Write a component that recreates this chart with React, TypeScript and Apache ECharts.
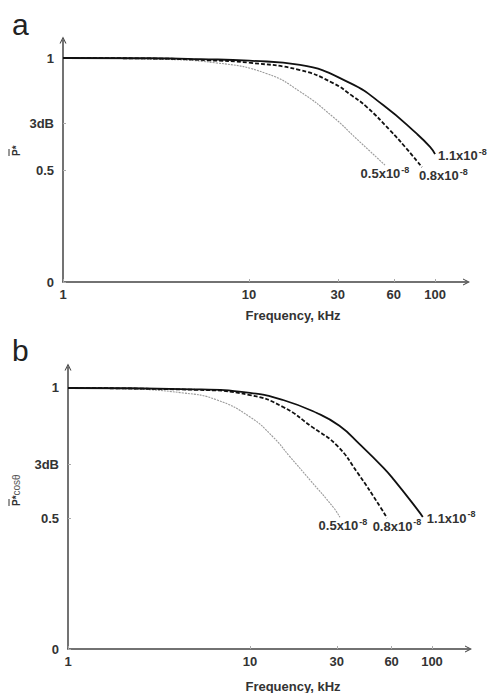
import React, { useEffect, useRef } from "react";
import * as echarts from "echarts";

// ---- data ----
const xTickValues = [1, 10, 30, 60, 100];
const yTickValues = [0, 0.5, Math.SQRT1_2, 1];

// Panel a: |P*|
const aFreq11 = [1, 3, 5.5, 10, 18.8, 35, 52.6, 80, 94, 100];
const aVal11 = [1, 0.999, 0.995, 0.988, 0.969, 0.888, 0.79, 0.661, 0.603, 0.571];
const aFreq08 = [1, 3, 6, 10, 18.8, 28.3, 36, 43, 57, 69, 85];
const aVal08 = [1, 0.998, 0.99, 0.979, 0.946, 0.888, 0.83, 0.781, 0.679, 0.603, 0.513];
const aFreq05 = [1, 3, 6.7, 12.5, 18.8, 28.3, 38, 53.8];
const aVal05 = [1, 0.995, 0.978, 0.93, 0.85, 0.737, 0.638, 0.522];

// Panel b: P* cos(theta)
const bFreq11 = [1, 5, 10, 15.2, 23.3, 31, 40, 54, 62, 83, 89];
const bVal11 = [1, 0.995, 0.981, 0.954, 0.904, 0.855, 0.785, 0.695, 0.647, 0.535, 0.506];
const bFreq08 = [1, 5, 10, 15.2, 22, 30, 39, 52, 56.6];
const bVal08 = [1, 0.993, 0.973, 0.927, 0.85, 0.78, 0.675, 0.544, 0.502];
const bFreq05 = [1, 2, 4.3, 6.6, 10, 13.4, 16.6, 21.4, 28.6, 31.2];
const bVal05 = [1, 0.997, 0.981, 0.954, 0.889, 0.812, 0.736, 0.647, 0.544, 0.505];

const seriesLabels = ["1.1", "0.8", "0.5"];

const FONT = "Liberation Sans, Arial, sans-serif";
const AXIS_COLOR = "#444";
const TEXT_COLOR = "#333";

const zip = (xs: number[], ys: number[]) => xs.map((x, i) => [x, ys[i]]);

const arrow = "path://M0,10 L5,0 L10,10 L8.4,10 L5,3.2 L1.6,10 Z";

function xAxis(gridIndex: number, max: number) {
  return {
    type: "log",
    logBase: 10,
    gridIndex,
    min: 1,
    max,
    axisLine: {
      show: true,
      onZero: false,
      lineStyle: { color: AXIS_COLOR, width: 1.5 },
      symbol: ["none", arrow],
      symbolSize: [10, 7],
    },
    axisTick: {
      show: true,
      inside: true,
      length: 3,
      customValues: xTickValues,
      lineStyle: { color: "#aaa", width: 1 },
    },
    minorTick: { show: false },
    axisLabel: {
      customValues: xTickValues,
      formatter: (v: number) => String(Math.round(v)),
      color: TEXT_COLOR,
      fontWeight: "bold",
      fontSize: 13,
      fontFamily: FONT,
      margin: 6,
    },
    splitLine: { show: false },
  };
}

function yAxis(gridIndex: number) {
  return {
    type: "value",
    gridIndex,
    min: 0,
    max: 1.08,
    axisLine: {
      show: true,
      onZero: false,
      lineStyle: { color: AXIS_COLOR, width: 1.5 },
      symbol: ["none", arrow],
      symbolSize: [10, 7],
    },
    axisTick: {
      show: true,
      inside: true,
      length: 3,
      customValues: yTickValues,
      lineStyle: { color: "#aaa", width: 1 },
    },
    axisLabel: {
      customValues: yTickValues,
      formatter: (v: number) => {
        if (Math.abs(v - Math.SQRT1_2) < 1e-6) return "3dB";
        if (Math.abs(v - 0.5) < 1e-6) return "0.5";
        if (Math.abs(v - 1) < 1e-6) return "1";
        return "0";
      },
      color: TEXT_COLOR,
      fontWeight: "bold",
      fontSize: 13,
      fontFamily: FONT,
      margin: 9,
    },
    splitLine: { show: false },
  };
}

const rich = {
  m: { fontSize: 13, fontWeight: "bold", color: TEXT_COLOR, fontFamily: FONT, padding: [3, 0, 0, 0], lineHeight: 14 },
  s: { fontSize: 9, fontWeight: "bold", color: TEXT_COLOR, fontFamily: FONT, verticalAlign: "top", lineHeight: 9, padding: [0, 0, 0, 1] },
};

const styles = [
  { color: "#111", width: 1.8, type: "solid" as any },
  { color: "#111", width: 1.8, type: [4, 2] as any },
  { color: "#9a9a9a", width: 1.1, type: [2, 1] as any },
];

function lineSeries(
  idx: number,
  data: number[][],
  styleIdx: number,
  label: string,
  endLabel: { align: string; verticalAlign: string; distance: number }
) {
  return {
    type: "line",
    xAxisIndex: idx,
    yAxisIndex: idx,
    data,
    showSymbol: false,
    smooth: 0.5,
    lineStyle: styles[styleIdx],
    endLabel: {
      show: true,
      formatter: () => `{m|${label}x10}{s|-8}`,
      rich,
      ...endLabel,
    },
    silent: true,
  };
}

function gText(x: number, y: number, text: string, extra: any = {}) {
  return {
    type: "text",
    x,
    y,
    silent: true,
    ...extra,
    style: {
      text,
      fill: TEXT_COLOR,
      fontFamily: FONT,
      ...(extra.style || {}),
    },
  };
}

// rotated y-axis title with an overline above the "P"
function yTitle(cx: number, cy: number, withCos: boolean) {
  const totalW = withCos ? 34 : 12;
  const left = -totalW / 2;
  const children: any[] = [
    {
      type: "text",
      x: left,
      y: 0,
      silent: true,
      style: {
        text: withCos ? "{p|P*}{c|cos\u03b8}" : "P*",
        fill: TEXT_COLOR,
        fontFamily: FONT,
        fontSize: 10,
        fontWeight: "bold",
        align: "left",
        verticalAlign: "middle",
        rich: withCos
          ? {
              p: { fontSize: 10, fontWeight: "bold", fill: TEXT_COLOR, fontFamily: FONT },
              c: { fontSize: 10, fill: "#555", fontFamily: FONT },
            }
          : undefined,
      },
    },
    {
      type: "line",
      silent: true,
      shape: { x1: left, y1: -7, x2: left + 7, y2: -7 },
      style: { stroke: TEXT_COLOR, lineWidth: 1 },
    },
  ];
  return { type: "group", x: cx, y: cy, rotation: Math.PI / 2, children };
}

export default function App() {
  const ref = useRef<HTMLDivElement>(null);
  useEffect(() => {
    if (!ref.current) return;
    const chart = echarts.init(ref.current, undefined, { renderer: "svg" });
    chart.setOption({
      animation: false,
      backgroundColor: "#fff",
      grid: [
        { left: 63, right: 23.5, top: 40.1, bottom: 411, outerBoundsMode: "none", containLabel: false },
        { left: 68, right: 21.5, top: 367.1, bottom: 44, outerBoundsMode: "none", containLabel: false },
      ],
      xAxis: [xAxis(0, 147.6), xAxis(1, 158.7)],
      yAxis: [yAxis(0), yAxis(1)],
      series: [
        lineSeries(0, zip(aFreq05, aVal05), 2, seriesLabels[2], { align: "center", verticalAlign: "top", distance: 0 }),
        lineSeries(0, zip(aFreq08, aVal08), 1, seriesLabels[1], { align: "left", verticalAlign: "top", distance: -3 }),
        lineSeries(0, zip(aFreq11, aVal11), 0, seriesLabels[0], { align: "left", verticalAlign: "middle", distance: 3 }),
        lineSeries(1, zip(bFreq05, bVal05), 2, seriesLabels[2], { align: "center", verticalAlign: "top", distance: 3 }),
        lineSeries(1, zip(bFreq08, bVal08), 1, seriesLabels[1], { align: "center", verticalAlign: "top", distance: 10 }),
        lineSeries(1, zip(bFreq11, bVal11), 0, seriesLabels[0], { align: "left", verticalAlign: "middle", distance: 4 }),
      ],
      graphic: [
        gText(12, 24, "a", { style: { fontSize: 30, verticalAlign: "middle", align: "left", fill: "#222" } }),
        gText(12, 350, "b", { style: { fontSize: 30, verticalAlign: "middle", align: "left", fill: "#222" } }),
        gText(293, 315, "Frequency, kHz", { style: { fontSize: 13, fontWeight: "bold", align: "center", verticalAlign: "middle" } }),
        gText(293, 686, "Frequency, kHz", { style: { fontSize: 13, fontWeight: "bold", align: "center", verticalAlign: "middle" } }),
        yTitle(16, 150, false),
        yTitle(16, 489, true),
      ],
    });
    return () => chart.dispose();
  }, []);
  return (
    <div
      ref={ref}
      style={{ position: "absolute", left: 0, top: 0, width: 490, height: 693, background: "#fff" }}
    />
  );
}
